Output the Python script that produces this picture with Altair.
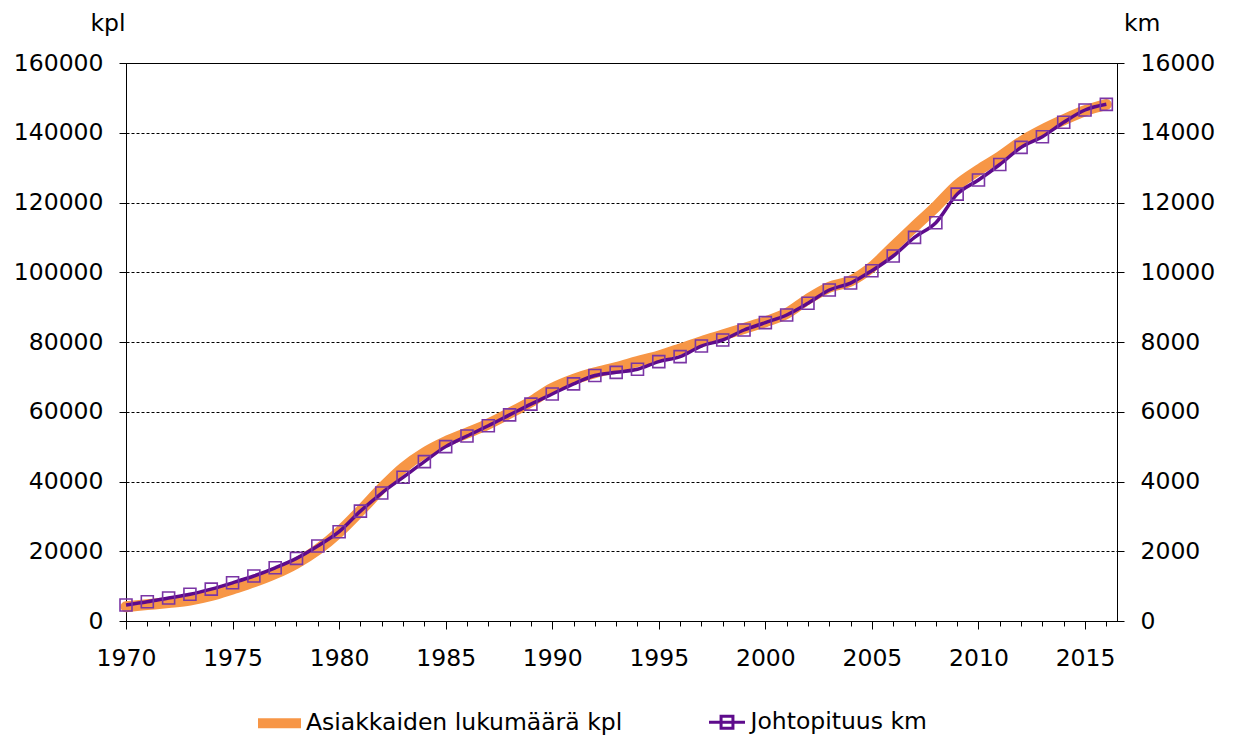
import altair as alt
import pandas as pd

years = list(range(1970, 2017))
customers_kpl = [4100, 4700, 5300, 6000, 7300, 9200, 11200, 13600, 16600, 20500,
                 25500, 31600, 38100, 43900, 48200, 51400, 53900, 56500, 59600, 62900,
                 66700, 69300, 71200, 72700, 74400, 76000, 78000, 80100, 82000, 83900,
                 85800, 88200, 92300, 95700, 97500, 101500, 107300, 113100, 118800, 125000,
                 129300, 133100, 137400, 140800, 143700, 146300, 148100]
length_km = [460, 550, 660, 765, 915, 1095, 1290, 1525, 1795, 2150,
             2560, 3150, 3670, 4120, 4570, 5000, 5305, 5600, 5910, 6220,
             6510, 6800, 7040, 7130, 7217, 7436, 7580, 7885, 8057, 8344,
             8555, 8775, 9110, 9490, 9690, 10045, 10466, 11000, 11420, 12240,
             12645, 13090, 13580, 13887, 14300, 14652, 14815]
series_names = ["Asiakkaiden lukumäärä kpl", "Johtopituus km"]
left_ticks = list(range(0, 160001, 20000))
right_ticks = list(range(0, 16001, 2000))

df = pd.DataFrame({"year": years, "kpl": customers_kpl, "km": length_km,
                   "s1": series_names[0], "s2": series_names[1]})

FONT = "DejaVu Sans"
FS = 23.5
ORANGE = "#F79646"
PURPLE = "#5E0B8C"
MARKER = "#7A35A5"

x_enc = alt.X("year:Q",
              scale=alt.Scale(domain=[1970, 2016.5], nice=False, zero=False),
              axis=alt.Axis(values=years, format="d", title=None,
                            labelExpr="datum.value % 5 == 0 ? datum.label : ''",
                            labelOverlap=False, labelFlush=False,
                            tickSize={"condition": {"test": "datum.value % 5 == 0", "value": 8},
                                      "value": 5},
                            labelPadding=17, grid=False))

base = alt.Chart(df)

orange = base.mark_line(strokeWidth=11, interpolate="monotone", strokeCap="round").encode(
    x=x_enc,
    y=alt.Y("kpl:Q", scale=alt.Scale(domain=[0, 160000], nice=False),
            axis=alt.Axis(values=left_ticks, format="d", orient="left",
                          title="kpl", titleAngle=0, titleX=-18.5, titleY=-33,
                          titleAlign="center", titleBaseline="alphabetic",
                          grid=True, gridColor="black", gridDash=[3, 2], gridWidth=1,
                          tickSize=7, labelPadding=16)),
    color=alt.Color("s1:N", scale=alt.Scale(domain=[series_names[0]], range=[ORANGE]),
                    legend=alt.Legend(title=None, orient="none", legendX=127, legendY=633.7,
                                      symbolType="stroke", symbolSize=1849,
                                      symbolStrokeWidth=10, labelOffset=0,
                                      labelFont=FONT, labelFontSize=FS,
                                      labelColor="black", labelLimit=0)),
)

y_right = alt.Y("km:Q", scale=alt.Scale(domain=[0, 16000], nice=False),
                axis=alt.Axis(values=right_ticks, format="d", orient="right",
                              title="km", titleAngle=0, titleX=24.7, titleY=-33,
                              titleAlign="center", titleBaseline="alphabetic",
                              grid=False, tickSize=7, labelPadding=16))

purple_line = base.mark_line(strokeWidth=3.5, interpolate="monotone").encode(
    x=x_enc,
    y=y_right,
    stroke=alt.Stroke("s2:N", scale=alt.Scale(domain=[series_names[1]], range=[PURPLE]),
                      legend=alt.Legend(title=None, orient="none", legendX=581.5, legendY=639.7,
                                        symbolType="M-1,0H1M-0.33,-0.33H0.33V0.33H-0.33Z",
                                        symbolSize=1296, symbolStrokeWidth=3,
                                        symbolFillColor="transparent", labelOffset=4,
                                        labelFont=FONT, labelFontSize=FS,
                                        labelColor="black", labelLimit=0)),
)

purple_pts = base.mark_point(shape="square", size=144, filled=False,
                             color=MARKER, strokeWidth=1.6, opacity=1).encode(
    x=x_enc,
    y=y_right,
)

chart = alt.layer(orange, alt.layer(purple_line, purple_pts)).resolve_scale(
    y="independent", color="independent", stroke="independent"
).properties(
    width=991, height=558,
    autosize=alt.AutoSizeParams(type="none"),
    padding={"left": 118, "top": 55, "right": 112, "bottom": 115},
    background="white",
).configure_view(
    stroke="black", strokeWidth=1
).configure_axis(
    labelFont=FONT, labelFontSize=FS, labelColor="black",
    titleFont=FONT, titleFontSize=FS, titleColor="black", titleFontWeight="normal",
    domainColor="black", tickColor="black", domainWidth=1, tickWidth=1,
)

chart.save("out.html", embed_options={"renderer": "svg", "actions": False})
